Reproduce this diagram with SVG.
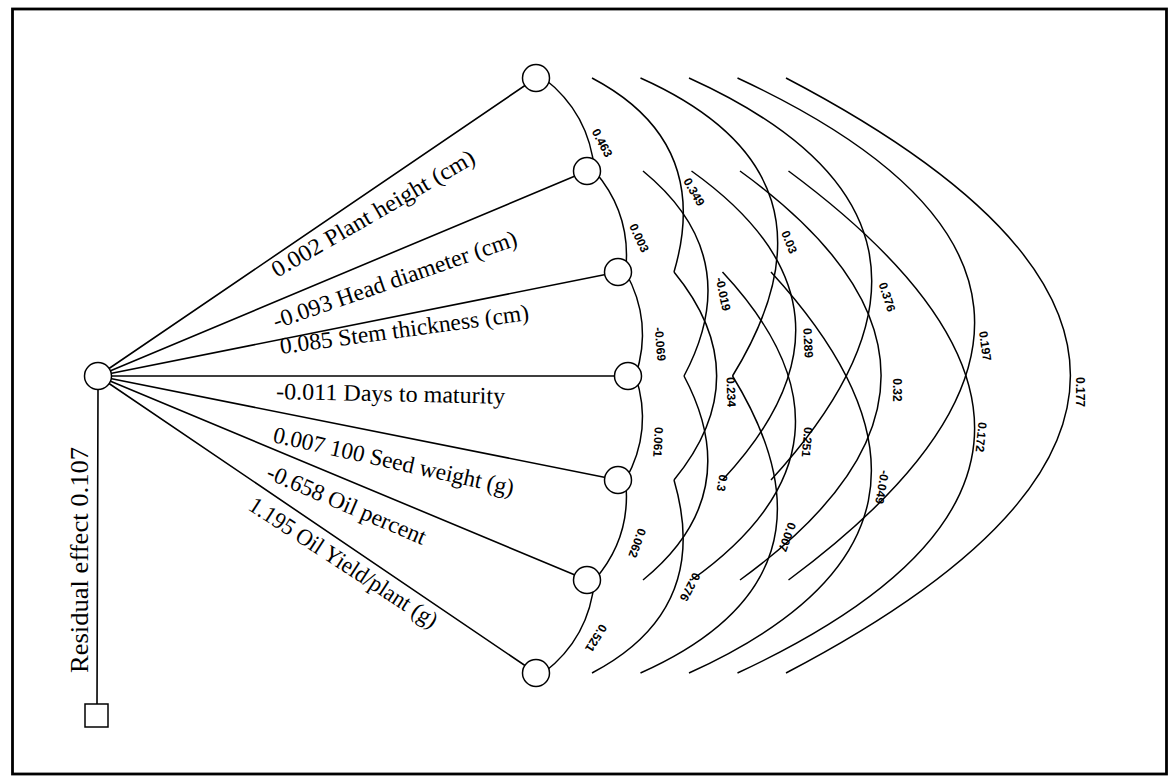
<svg xmlns="http://www.w3.org/2000/svg" width="1170" height="777" viewBox="0 0 1170 777">
  <style>
    .frame { fill: none; stroke: #000; stroke-width: 2.8; }
    .ln { stroke: #000; stroke-width: 1.6; fill: none; stroke-linecap: round; }
    .arc { stroke: #000; stroke-width: 1.5; fill: none; }
    .nd { fill: #fff; stroke: #000; stroke-width: 1.5; }
    .lab { font-family: "Liberation Serif", "Times New Roman", serif; font-size: 23.5px; fill: #000; }
    .res { font-family: "Liberation Serif", "Times New Roman", serif; font-size: 25px; fill: #000; text-anchor: middle; }
    .val { font-family: "Liberation Sans", Arial, sans-serif; font-weight: bold; font-size: 12px; fill: #000; text-anchor: middle; dominant-baseline: central; }
  </style>

  <rect class="frame" x="12.5" y="9" width="1154" height="765"/>

  <!-- direct paths from the dependent trait, residual path, and correlation arcs -->
  <g id="connectors">
    <line class="ln" x1="98" y1="376" x2="536" y2="78"/>
    <line class="ln" x1="98" y1="376" x2="587" y2="171"/>
    <line class="ln" x1="98" y1="376" x2="618" y2="272"/>
    <line class="ln" x1="98" y1="376" x2="628" y2="376"/>
    <line class="ln" x1="98" y1="376" x2="618" y2="480"/>
    <line class="ln" x1="98" y1="376" x2="587" y2="580"/>
    <line class="ln" x1="98" y1="376" x2="536" y2="673"/>
    <line class="ln" x1="98" y1="390" x2="97" y2="704"/>

    <!-- adjacent traits -->
    <path class="arc" d="M543.5,78 Q589.5,113.3 594.5,171"/>
    <path class="arc" d="M594.5,171 Q632.2,214.7 625.5,272"/>
    <path class="arc" d="M625.5,272 Q653.4,321.8 635.5,376"/>
    <path class="arc" d="M635.5,376 Q653.4,430.2 625.5,480"/>
    <path class="arc" d="M625.5,480 Q632,536.8 594.5,580"/>
    <path class="arc" d="M594.5,580 Q589.5,637.7 543.5,673"/>
    <!-- two apart -->
    <path class="arc" d="M592,78 Q712.5,141.4 674,272"/>
    <path class="arc" d="M643,171 Q747.5,256.7 684,376"/>
    <path class="arc" d="M674,272 Q759.3,376 674,480"/>
    <path class="arc" d="M684,376 Q747.1,494.8 643,580"/>
    <path class="arc" d="M674,480 Q712.1,610.1 592,673"/>
    <!-- three apart -->
    <path class="arc" d="M640.5,78 Q856.4,174.6 732.5,376"/>
    <path class="arc" d="M691.5,171 Q883.1,307.8 722.5,480"/>
    <path class="arc" d="M722.5,272 Q882.6,443.7 691.5,580"/>
    <path class="arc" d="M732.5,376 Q855.8,576.9 640.5,673"/>
    <!-- four apart -->
    <path class="arc" d="M689,78 Q1007.4,222.4 771,480"/>
    <path class="arc" d="M740,171 Q1022.2,375.5 740,580"/>
    <path class="arc" d="M771,272 Q1006.7,529.1 689,673"/>
    <!-- five apart -->
    <path class="arc" d="M737.5,78 Q1184.7,286.2 788.5,580"/>
    <path class="arc" d="M788.5,171 Q1184.7,464.8 737.5,673"/>
    <!-- six apart -->
    <path class="arc" d="M786,78 Q1354.8,375.5 786,673"/>

    <!-- correlation values -->
    <g class="vals">
      <text class="val" transform="translate(602,143) rotate(62)">0.463</text>
      <text class="val" transform="translate(639,238) rotate(65)">0.003</text>
      <text class="val" transform="translate(660,344) rotate(85)">-0.069</text>
      <text class="val" transform="translate(658,442) rotate(93)">0.061</text>
      <text class="val" transform="translate(637,543) rotate(110)">0.062</text>
      <text class="val" transform="translate(596,638) rotate(122)">0.521</text>

      <text class="val" transform="translate(694,192) rotate(60)">0.349</text>
      <text class="val" transform="translate(723,294) rotate(78)">-0.019</text>
      <text class="val" transform="translate(731,392) rotate(88)">0.234</text>
      <text class="val" transform="translate(722,483) rotate(100)">0.3</text>
      <text class="val" transform="translate(690,587) rotate(118)">0.276</text>

      <text class="val" transform="translate(789,242) rotate(68)">0.03</text>
      <text class="val" transform="translate(808,343) rotate(87)">0.289</text>
      <text class="val" transform="translate(807,442) rotate(95)">0.251</text>
      <text class="val" transform="translate(787,537) rotate(110)">0.007</text>

      <text class="val" transform="translate(887,297) rotate(72)">0.376</text>
      <text class="val" transform="translate(897,390) rotate(90)">0.32</text>
      <text class="val" transform="translate(882,487) rotate(100)">-0.049</text>

      <text class="val" transform="translate(985,346) rotate(82)">0.197</text>
      <text class="val" transform="translate(981,437) rotate(96)">0.172</text>

      <text class="val" transform="translate(1080,392) rotate(90)">0.177</text>
    </g>
  </g>

  <!-- path labels -->
  <g id="path-labels">
    <text class="lab" transform="translate(277,278) rotate(-30.1)" textLength="231" lengthAdjust="spacingAndGlyphs">0.002  Plant height (cm)</text>
    <text class="lab" transform="translate(276,329) rotate(-19.1)" textLength="257" lengthAdjust="spacingAndGlyphs">-0.093  Head diameter (cm)</text>
    <text class="lab" transform="translate(281,354) rotate(-7.8)" textLength="251" lengthAdjust="spacingAndGlyphs">0.085 Stem thickness (cm)</text>
    <text class="lab" transform="translate(276,399) rotate(1.2)" textLength="229" lengthAdjust="spacingAndGlyphs">-0.011  Days to maturity</text>
    <text class="lab" transform="translate(272,442) rotate(12.6)" textLength="246" lengthAdjust="spacingAndGlyphs">0.007 100 Seed weight (g)</text>
    <text class="lab" transform="translate(265,478) rotate(23.1)" textLength="171" lengthAdjust="spacingAndGlyphs">-0.658 Oil  percent</text>
    <text class="lab" transform="translate(247,509) rotate(33)" textLength="220" lengthAdjust="spacingAndGlyphs">1.195 Oil Yield/plant (g)</text>
    <text class="res" transform="translate(88,560) rotate(-90)" textLength="226" lengthAdjust="spacingAndGlyphs">Residual effect 0.107</text>
  </g>

  <!-- trait nodes -->
  <g id="node-yield"><circle class="nd" cx="98" cy="376" r="13.5"/></g>
  <g id="node-plant-height"><circle class="nd" cx="536" cy="78" r="13.5"/></g>
  <g id="node-head-diameter"><circle class="nd" cx="587" cy="171" r="13.5"/></g>
  <g id="node-stem-thickness"><circle class="nd" cx="618" cy="272" r="13.5"/></g>
  <g id="node-days-maturity"><circle class="nd" cx="628" cy="376" r="13.5"/></g>
  <g id="node-seed-weight"><circle class="nd" cx="618" cy="480" r="13.5"/></g>
  <g id="node-oil-percent"><circle class="nd" cx="587" cy="580" r="13.5"/></g>
  <g id="node-oil-yield"><circle class="nd" cx="536" cy="673" r="13.5"/></g>
  <g id="node-residual"><rect class="nd" x="85" y="704" width="23" height="23"/></g>
</svg>
